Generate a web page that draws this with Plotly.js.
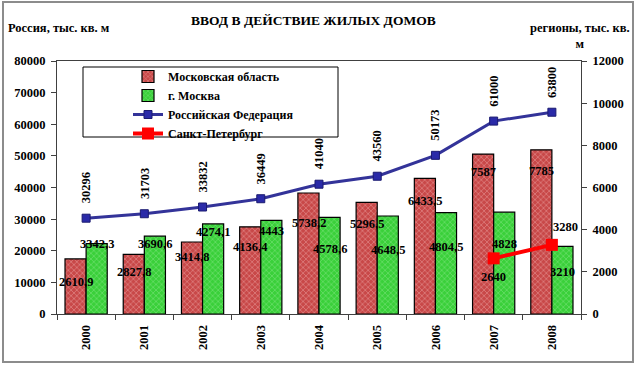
<!DOCTYPE html>
<html><head><meta charset="utf-8">
<script src="https://cdn.plot.ly/plotly-3.0.1.min.js"></script>
<style>html,body{margin:0;padding:0;background:#fff}#c{width:638px;height:369px}</style>
</head><body><div id="c"></div>
<script>
const years = ['2000','2001','2002','2003','2004','2005','2006','2007','2008'];
const moscowOblast = [2610.9, 2827.8, 3414.8, 4136.4, 5738.2, 5296.5, 6433.5, 7587, 7785];
const moscowCity = [3342.3, 3690.6, 4274.1, 4443, 4578.6, 4648.5, 4804.5, 4828, 3210];
const russia = [30296, 31703, 33832, 36449, 41040, 43560, 50173, 61000, 63800];
const spbYears = ['2007','2008'];
const spb = [2640, 3280];
const seriesNames = ['Московская область','г. Москва','Российская Федерация','Санкт-Петербург'];

// label placement (pixels below the value), kept apart from the data
const moLabelDrop = [23,18,15,20,30,22,23,18,21];
const mcLabelDrop = [0,8,8,11,32,34,34,32,26];
const spbLabelShift = [[0,-19],[14,18]];

const W=638,H=369,L=57,R=581,T=61,B=314;
const px=(p)=>(p-L)/(R-L), py=(p)=>(B-p)/(B-T);
const fmt=v=>String(v).replace('.',',');
const F='Liberation Serif';
const lab={family:F,size:12.5,color:'#000',weight:'bold'};
const tf={family:F,size:12.5,weight:'bold',color:'#000'};

const traces=[
 {type:'bar',name:seriesNames[0],x:years,y:moscowOblast,yaxis:'y2',
  marker:{color:'#c84848',line:{color:'#000',width:1.2},pattern:{shape:'x',fgcolor:'#f4b8b8',size:4,solidity:0.35,fillmode:'overlay'}}},
 {type:'bar',name:seriesNames[1],x:years,y:moscowCity,yaxis:'y2',
  marker:{color:'#3ad03a',line:{color:'#000',width:1.2},pattern:{shape:'x',fgcolor:'#a8f0a8',size:4,solidity:0.3,fillmode:'overlay'}}},
 {type:'scatter',mode:'lines+markers',name:seriesNames[2],x:years,y:russia,yaxis:'y',
  line:{color:'#333399',width:3},marker:{symbol:'square',size:8,color:'#2a2aa8',line:{color:'#1a1a70',width:1}}},
 {type:'scatter',mode:'lines+markers',name:seriesNames[3],x:spbYears,y:spb,yaxis:'y2',
  line:{color:'#ff0000',width:4},marker:{symbol:'square',size:12,color:'#ff0000'}}
];

const ann=[];
years.forEach((yr,i)=>{
  ann.push({x:i,y:russia[i],xref:'x',yref:'y',text:String(russia[i]),textangle:-90,showarrow:false,yshift:30,font:lab});
  ann.push({x:i,y:moscowOblast[i],xref:'x',yref:'y2',text:fmt(moscowOblast[i]),showarrow:false,xshift:-10.5,yshift:-moLabelDrop[i],font:lab});
  ann.push({x:i,y:moscowCity[i],xref:'x',yref:'y2',text:fmt(moscowCity[i]),showarrow:false,xshift:10.5,yshift:-mcLabelDrop[i],font:lab});
});
spbYears.forEach((yr,i)=>{
  ann.push({x:years.indexOf(yr),y:spb[i],xref:'x',yref:'y2',text:fmt(spb[i]),showarrow:false,xshift:spbLabelShift[i][0],yshift:spbLabelShift[i][1],font:lab});
});
ann.push({xref:'paper',yref:'paper',x:px(313),y:py(20),xanchor:'center',yanchor:'middle',text:'ВВОД В ДЕЙСТВИЕ ЖИЛЫХ ДОМОВ',showarrow:false,font:{family:F,size:13.5,weight:'bold',color:'#000'}});
ann.push({xref:'paper',yref:'paper',x:px(6),xanchor:'left',yanchor:'middle',y:py(28),text:'Россия, тыс. кв. м',showarrow:false,font:{family:F,size:12.5,weight:'bold',color:'#000'}});
ann.push({xref:'paper',yref:'paper',x:px(580),y:py(36),xanchor:'center',yanchor:'middle',text:'регионы, тыс. кв.<br>м',showarrow:false,align:'center',font:{family:F,size:12.5,weight:'bold',color:'#000'}});

const shapes=[
 {type:'rect',xref:'paper',yref:'paper',x0:px(3),x1:px(633),y0:py(362),y1:py(2),line:{color:'#8c8c8c',width:2},layer:'below'},
 {type:'rect',xref:'paper',yref:'paper',x0:px(83),x1:px(338),y0:py(137),y1:py(67),line:{color:'#000',width:1},fillcolor:'#fff',layer:'below'}
];

const layout={
 width:W,height:H,margin:{l:L,r:W-R,t:T,b:H-B,pad:0},
 paper_bgcolor:'#fff',plot_bgcolor:'rgba(0,0,0,0)',
 barmode:'group',bargap:0.275,bargroupgap:0,
 font:{family:F,size:12,color:'#000'},
 showlegend:true,
 legend:{x:px(128),y:py(62),xanchor:'left',yanchor:'top',bgcolor:'rgba(0,0,0,0)',borderwidth:0,
   font:{family:F,size:12,weight:'bold',color:'#000'},tracegroupgap:0},
 xaxis:{type:'category',categoryorder:'array',categoryarray:years,range:[-0.5,8.5],autorange:false,tickangle:-90,ticks:'outside',tickson:'boundaries',ticklen:5,
   ticklabelstandoff:5,tickcolor:'#404040',showline:true,linecolor:'#404040',linewidth:1,mirror:true,showgrid:false,tickfont:tf},
 yaxis:{range:[0,80000],dtick:10000,tickformat:'d',ticks:'outside',ticklen:5,tickcolor:'#404040',showline:true,linecolor:'#404040',
   ticklabelstandoff:3,showgrid:false,zeroline:false,tickfont:tf},
 yaxis2:{range:[0,12000],dtick:2000,tickformat:'d',overlaying:'y',side:'right',ticks:'outside',ticklen:5,tickcolor:'#404040',
   ticklabelstandoff:3,showline:true,linecolor:'#404040',showgrid:false,zeroline:false,tickfont:tf},
 annotations:ann,shapes:shapes
};
Plotly.newPlot('c',traces,layout,{displayModeBar:false,staticPlot:true});
</script></body></html>
